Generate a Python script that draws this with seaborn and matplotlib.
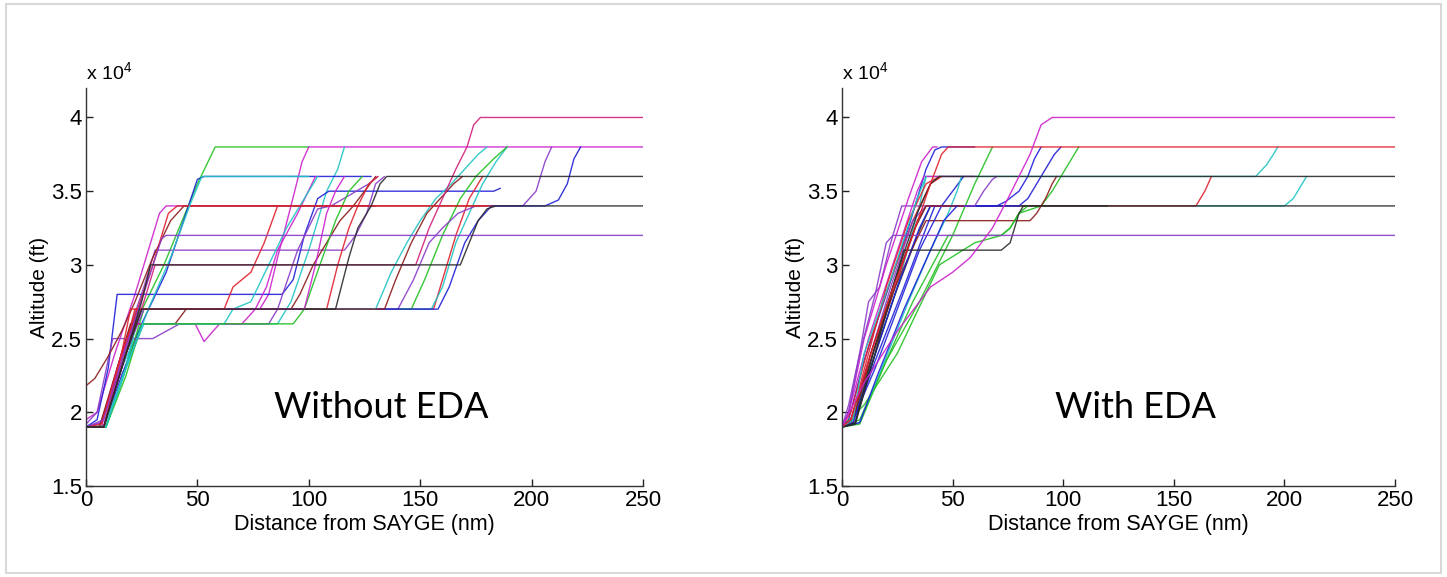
import matplotlib
matplotlib.use('Agg')
import matplotlib.pyplot as plt
from matplotlib.patches import Rectangle
from matplotlib.ticker import FuncFormatter
import seaborn as sns
import pandas as pd

# line colours (MATLAB-ish)
B, G, R, C, M, K, BR, P, PK = ('#2020d8', '#22c022', '#e0202c', '#20c4c4',
                               '#cc22cc', '#2a2a2a', '#8c1c1c', '#8a3cc8', '#d2207a')

# ---- Without EDA: breakpoints of each track, distance (nm) / altitude (ft)
left_dist = [
    [0, 6, 14, 22, 35, 50, 58, 100],
    [0, 7, 15, 24, 78, 82, 86, 92, 97, 100, 250],
    [0, 8, 16, 25, 86, 92, 100, 108, 113, 116],
    [0, 8, 16, 25, 36, 46, 50, 53, 128],
    [0, 5, 13, 22, 30, 33, 36, 130],
    [0, 7, 17, 26, 31, 116, 121, 126, 130, 134],
    [0, 5, 10, 14, 88, 93, 98, 104, 109, 183, 186],
    [0, 8, 16, 22, 156, 160, 166, 172, 178],
    [0, 9, 17, 24, 155, 160, 166, 172, 178, 184, 189],
    [0, 9, 20, 26, 146, 152, 160, 168, 175, 183, 189],
    [0, 8, 18, 26, 140, 147, 154, 160, 167, 175, 196, 202, 206, 209],
    [0, 8, 18, 25, 158, 163, 170, 176, 182, 206, 212, 216, 219, 222],
    [0, 6, 15, 20, 40, 45, 92, 96, 102, 108, 114, 120, 125, 130],
    [0, 5, 12, 30, 36, 42, 82, 86, 95, 104, 110, 127, 131],
    [0, 7, 16, 22, 49, 53, 57, 60, 70, 76, 81, 86, 95, 103],
    [0, 9, 18, 26, 62, 66, 74, 82, 90, 98, 104],
    [0, 8, 16, 23, 108, 113, 118, 122, 127, 131],
    [0, 9, 18, 25, 93, 98, 105, 112, 118, 124],
    [0, 4, 10, 16, 22, 30, 38, 44, 183],
    [0, 9, 18, 24, 130, 137, 144, 150, 157, 164, 170, 176, 180],
    [0, 8, 17, 25, 134, 139, 146, 153, 159, 165, 169],
    [0, 8, 16, 24, 98, 103, 108, 112, 116],
    [0, 7, 16, 22, 30, 37, 41, 180],
    [0, 8, 18, 28, 38, 47, 52, 100],
    [0, 8, 16, 20, 62, 66, 74, 80, 86],
    [0, 8, 18, 28, 34, 36, 250],
    [0, 8, 18, 26, 31, 148, 154, 160, 166, 171, 174, 177, 250],
    [0, 8, 17, 25, 29, 168, 172, 176, 180, 184, 250],
    [0, 8, 18, 25, 112, 118, 122, 128, 132, 135, 250],
]
left_alt = [
    [19000, 19000, 22500, 26000, 30000, 35500, 38000, 38000],
    [19000, 19300, 23500, 27000, 27000, 28000, 30500, 34000, 37000, 38000, 38000],
    [19000, 19100, 23000, 26000, 26000, 27500, 31000, 35000, 36500, 38000],
    [19000, 19000, 22500, 26000, 29500, 34000, 35800, 36000, 36000],
    [19500, 20000, 24000, 28000, 32000, 33500, 34000, 34000],
    [19000, 19300, 24500, 28500, 31000, 31000, 32000, 33500, 35500, 36000],
    [19000, 19500, 23000, 28000, 28000, 29000, 32000, 34500, 35000, 35000, 35200],
    [19000, 19000, 23500, 27000, 27000, 29000, 32000, 34500, 36000],
    [19000, 19000, 22500, 27000, 27000, 28500, 31500, 33500, 35500, 37000, 38000],
    [19000, 19000, 24000, 27000, 27000, 29000, 32000, 34500, 36000, 37200, 38000],
    [19000, 19000, 24000, 27000, 27000, 29000, 31500, 32500, 33500, 34000, 34000, 35000, 37000, 38000],
    [19000, 19000, 24000, 27000, 27000, 28500, 31500, 33000, 34000, 34000, 34400, 35500, 37200, 38000],
    [19000, 19000, 23500, 26000, 26000, 27000, 27000, 28000, 30000, 31500, 33000, 34000, 35000, 36000],
    [19200, 20000, 25000, 25000, 25500, 26000, 26000, 27000, 31000, 33800, 34000, 35500, 36000],
    [19000, 19000, 24000, 26000, 26000, 24800, 25500, 26000, 26000, 27000, 28500, 31000, 33500, 36000],
    [19000, 19000, 23000, 26000, 26000, 27000, 27500, 30000, 32500, 34500, 36000],
    [19000, 19000, 23500, 27000, 27000, 30000, 32500, 34000, 35500, 36000],
    [19000, 19000, 22500, 26000, 26000, 27000, 30000, 33000, 35000, 36000],
    [21800, 22300, 23800, 25500, 27500, 30500, 33000, 34000, 34000],
    [19000, 19000, 23000, 27000, 27000, 29500, 31500, 33000, 34500, 35500, 36500, 37500, 38000],
    [19000, 19000, 23500, 27000, 27000, 29000, 31500, 33500, 34500, 35500, 36000],
    [19000, 19000, 23500, 27000, 27000, 30000, 33500, 35000, 36000],
    [19000, 19200, 24000, 26500, 30000, 33500, 34000, 34000],
    [19000, 19000, 23000, 27000, 30500, 34200, 36000, 36000],
    [19000, 19000, 24000, 27000, 27000, 28500, 29500, 31500, 34000],
    [19000, 19500, 24500, 29000, 31800, 32000, 32000],
    [19000, 19000, 24000, 27500, 30000, 30000, 32500, 34500, 36500, 38000, 39500, 40000, 40000],
    [19000, 19000, 23500, 27500, 30000, 30000, 31500, 33000, 33800, 34000, 34000],
    [19000, 19000, 24000, 27000, 27000, 30500, 32500, 34000, 35500, 36000, 36000],
]
left_col = [G, M, C, B, M, P, B, R, C, G, P, B, BR, P, M, C, R, G, BR, C, BR, M, R, C, R,
            P, PK, K, K]

# ---- With EDA
right_dist = [
    [0, 3, 10, 20, 30, 38, 42, 45, 60],
    [0, 5, 14, 24, 33, 38, 140, 200, 204, 208, 210],
    [0, 5, 15, 25, 35, 38, 187, 192, 195, 197],
    [0, 4, 14, 24, 34, 38, 160, 164, 167],
    [0, 8, 20, 35, 50, 60, 68],
    [0, 10, 25, 44, 60, 72, 76, 80, 90, 95, 99, 103, 107],
    [0, 3, 8, 12, 17, 22, 27, 70],
    [0, 6, 14, 24, 34, 40, 120],
    [0, 3, 12, 24, 34, 37, 60],
    [0, 5, 14, 24, 33, 38, 85, 88, 92, 95, 97],
    [0, 5, 15, 25, 35, 45, 50, 55],
    [0, 8, 18, 30, 40, 48, 52, 54],
    [0, 4, 12, 22, 32, 40, 45],
    [0, 5, 15, 28, 38, 42, 80, 84, 88, 92, 96, 99],
    [0, 5, 14, 25, 35, 40, 70, 74, 80, 84, 87, 90],
    [0, 4, 13, 22, 32, 38, 60, 64, 68, 70],
    [0, 8, 20, 32, 48, 72, 76, 80, 84],
    [0, 3, 10, 20, 30, 36, 41, 43],
    [0, 4, 12, 20, 30, 38, 44],
    [0, 5, 13, 23, 33, 38, 55],
    [0, 5, 10, 22, 34, 38],
    [0, 8, 16, 28, 40, 46, 52],
    [0, 6, 15, 24, 28, 72, 76, 78, 80, 82, 250],
    [0, 3, 8, 15, 20, 23, 250],
    [0, 6, 14, 24, 34, 40, 44, 250],
    [0, 4, 12, 22, 32, 40, 45, 48, 250],
    [0, 10, 25, 40, 50, 58, 68, 75, 80, 85, 90, 95, 250],
]
right_alt = [
    [19000, 19500, 23500, 28000, 32500, 36500, 37800, 38000, 38000],
    [19000, 19500, 24000, 28500, 32500, 34000, 34000, 34000, 34500, 35500, 36000],
    [19000, 19500, 24000, 28500, 34000, 36000, 36000, 36800, 37500, 38000],
    [19000, 19500, 24000, 28500, 33000, 34000, 34000, 35000, 36000],
    [19000, 19500, 23500, 27500, 32000, 35500, 38000],
    [19000, 20500, 24000, 30000, 31500, 32000, 32500, 33500, 34000, 35000, 36000, 37000, 38000],
    [19000, 20500, 24000, 27500, 28500, 31500, 34000, 34000],
    [19000, 19300, 23500, 28000, 32000, 34000, 34000],
    [19000, 20000, 25000, 30500, 35000, 36000, 36000],
    [19000, 19500, 24000, 28500, 31500, 33000, 33000, 33500, 34500, 35500, 36000],
    [19000, 19500, 23000, 27000, 31000, 34000, 35000, 36000],
    [19000, 19300, 23000, 27500, 31000, 33500, 35000, 36000],
    [19000, 20000, 24500, 29000, 33000, 35500, 36000],
    [19000, 19300, 23500, 28500, 32500, 34000, 34000, 34500, 35500, 36500, 37500, 38000],
    [19000, 19300, 23500, 28500, 32500, 34000, 34000, 34300, 35000, 36000, 37200, 38000],
    [19000, 19500, 24000, 28500, 33000, 34000, 34000, 35000, 35800, 36000],
    [19000, 19200, 23500, 27500, 32000, 32000, 32500, 33500, 34000],
    [19000, 20000, 25000, 30000, 34500, 37000, 38000, 38000],
    [19000, 19500, 24000, 28500, 33000, 35500, 36000],
    [19000, 19500, 24000, 28500, 32500, 34000, 34000],
    [19000, 19500, 24000, 29000, 34500, 36000],
    [19000, 19300, 22500, 27000, 31000, 33000, 34000],
    [19000, 19200, 24000, 29000, 31000, 31000, 31500, 32500, 33500, 34000, 34000],
    [19000, 20000, 24000, 28000, 31500, 32000, 32000],
    [19000, 19300, 24000, 29000, 33500, 35500, 36000, 36000],
    [19000, 19500, 23500, 28000, 32000, 35500, 37500, 38000, 38000],
    [19000, 22000, 25500, 28500, 29500, 30500, 32500, 34500, 36000, 37500, 39500, 40000, 40000],
]
right_col = [B, C, C, R, G, G, P, K, M, BR, B, C, R, B, B, P, G, M, R, BR, C, B,
             K, P, K, R, M]

x_ticks = [0, 50, 100, 150, 200, 250]
y_ticks = [15000, 20000, 25000, 30000, 35000, 40000]
panel_text = ['Without EDA', 'With EDA']


def to_frame(dist, alt):
    rows = []
    for i, (xs, ys) in enumerate(zip(dist, alt)):
        for x, y in zip(xs, ys):
            rows.append((i, x, y))
    return pd.DataFrame(rows, columns=['track', 'dist', 'alt'])


sns.set_theme(style='white')
plt.rcParams['font.family'] = ['Liberation Sans', 'DejaVu Sans']
plt.rcParams['mathtext.default'] = 'regular'
plt.rcParams['text.color'] = 'black'
plt.rcParams['axes.labelcolor'] = 'black'

fig = plt.figure(figsize=(14.47, 5.77), dpi=100)
fig.add_artist(Rectangle((0.004, 0.007), 0.992, 0.986, transform=fig.transFigure,
                         fill=False, ec='#d8d8d8', lw=1.5))

axes = [fig.add_axes([0.0594, 0.1577, 0.385, 0.6898]),
        fig.add_axes([0.5819, 0.1577, 0.3822, 0.6898])]

for ax, dist, alt, cols, txt in zip(axes, [left_dist, right_dist], [left_alt, right_alt],
                                   [left_col, right_col], panel_text):
    df = to_frame(dist, alt)
    sns.lineplot(data=df, x='dist', y='alt', hue='track', palette=dict(enumerate(cols)),
                 sort=False, estimator=None, legend=False, lw=1.0, alpha=0.9, ax=ax)
    ax.set_xlim(0, 250)
    ax.set_ylim(15000, 42000)
    ax.set_xticks(x_ticks)
    ax.set_yticks(y_ticks)
    ax.yaxis.set_major_formatter(FuncFormatter(lambda v, p: '%g' % (v / 1e4)))
    ax.tick_params(direction='in', length=5, width=1, colors='#222222', labelcolor='black',
                   labelsize=16, left=True, bottom=True, pad=3)
    for s in ['top', 'right']:
        ax.spines[s].set_visible(False)
    for s in ['left', 'bottom']:
        ax.spines[s].set_color('#333333')
        ax.spines[s].set_linewidth(1.0)
    ax.set_xlabel('Distance from SAYGE (nm)', fontsize=15.5, labelpad=2)
    ax.set_ylabel('Altitude (ft)', fontsize=15, labelpad=1)
    ax.text(0.0, 1.013, r'x 10$^4$', transform=ax.transAxes, fontsize=14, ha='left', va='bottom')
    ax.text(0.53, 0.196, txt, transform=ax.transAxes, fontsize=26, ha='center', va='center',
            color='black', family=['Lato', 'DejaVu Sans'])

fig.savefig('out.png', dpi=100)
